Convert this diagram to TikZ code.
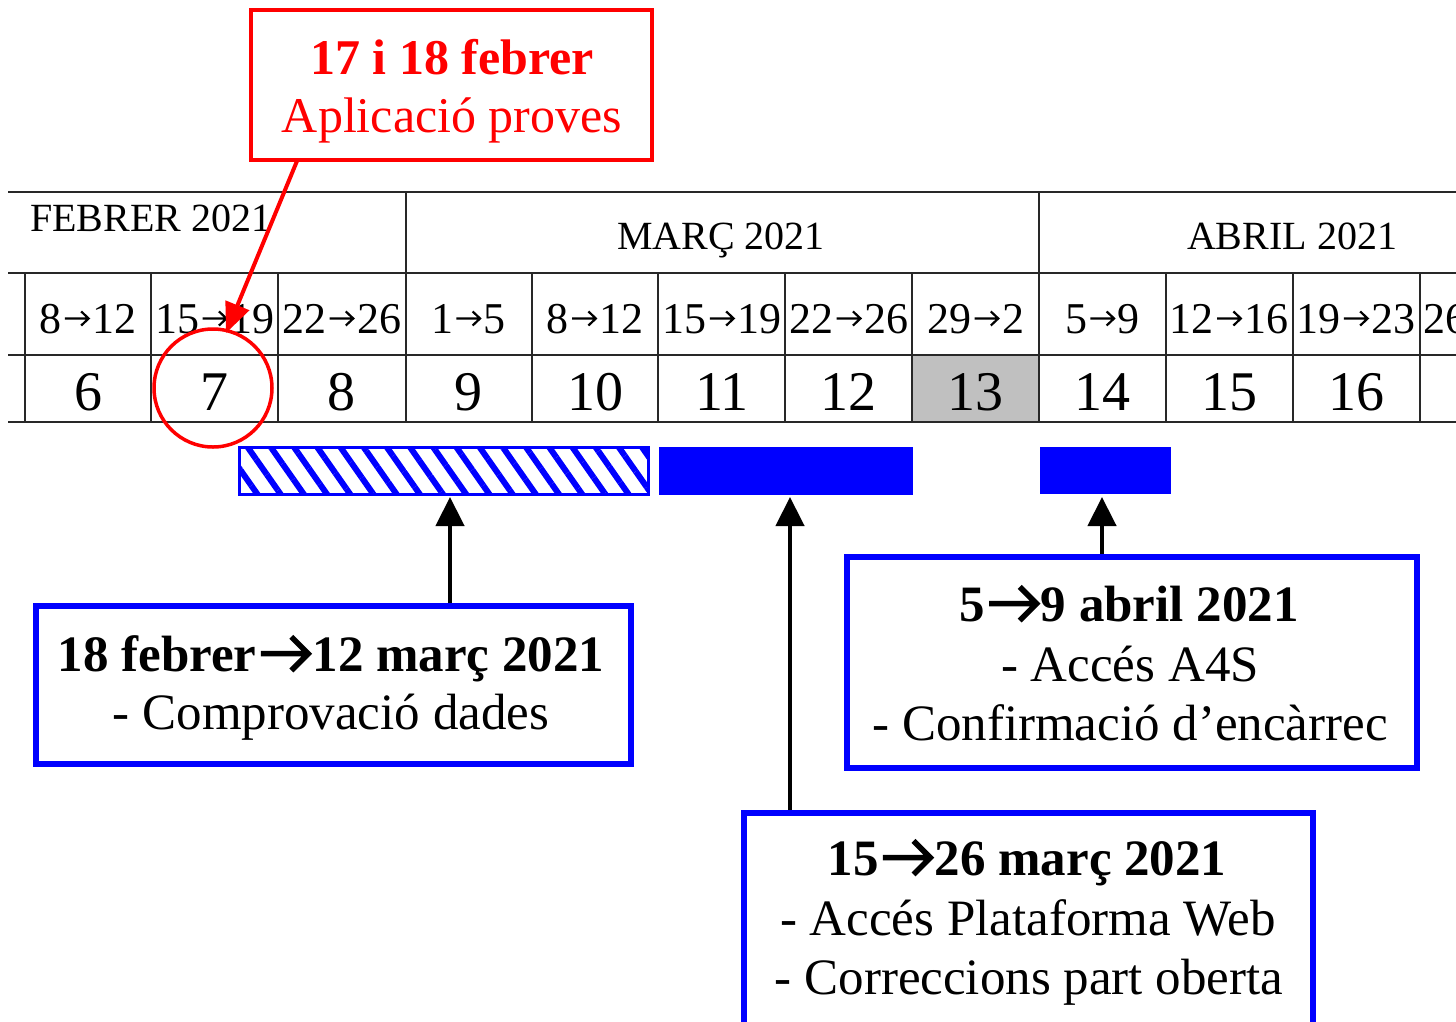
\documentclass[tikz,border=0pt]{standalone}
\usepackage{fontspec}
\setmainfont{Liberation Serif}
\usetikzlibrary{arrows.meta,patterns.meta}
\definecolor{pblue}{RGB}{0,0,255}
\definecolor{pred}{RGB}{255,0,0}
\definecolor{cgray}{RGB}{192,192,192}
\definecolor{lgray}{RGB}{40,40,40}
\newcommand\harr{\kern0.05em\tikz[baseline=0pt,x=1em,y=1em]{\draw[line width=0.05em,line cap=butt,line join=miter] (0,0.33)--(0.52,0.33) (0.37,0.49)--(0.54,0.33)--(0.37,0.17);}\kern0.06em}
\newcommand\barr{\kern0.03em\tikz[baseline=0pt,x=1em,y=1em]{\draw[line width=0.11em,line cap=butt,line join=miter] (0,0.34)--(0.9,0.34) (0.6,0.67)--(0.93,0.34)--(0.6,0.01);}\kern0.03em}
\begin{document}
\begin{tikzpicture}[x=1pt,y=-1pt,
  thk/.style={line width=2.6pt,draw=lgray},
  thn/.style={line width=1.6pt,draw=lgray},
  month/.style={font=\fontsize{40}{46}\selectfont,anchor=base,inner sep=0pt},
  week/.style={font=\fontsize{44}{50}\selectfont,anchor=base,inner sep=0pt},
  num/.style={font=\fontsize{56}{60}\selectfont,anchor=base,inner sep=0pt},
  bluebox/.style={draw=pblue,line width=6pt,fill=white,inner sep=0pt,outer sep=0pt},
  boxtxt/.style={font=\fontsize{51}{59}\selectfont,anchor=base,inner sep=0pt},
  boxbold/.style={font=\fontsize{51}{59}\selectfont\bfseries,anchor=base,inner sep=0pt},
  bar/.style={fill=pblue,inner sep=0pt,outer sep=0pt},
  barrow/.style={line width=4.5pt,draw=black,-{Triangle[length=29pt,width=28pt]}},
  rarrow/.style={line width=4pt,draw=pred,-{Triangle[length=30pt,width=25pt]}}
]
\clip (0,0) rectangle (1456,1021);
\fill[white] (0,0) rectangle (1456,1021);

% ---------- table ----------
\fill[cgray] (912,355) rectangle (1039,422);
\draw[thk] (8,192) -- (1456,192);
\draw[thn] (8,273) -- (1456,273);
\draw[thk] (8,355) -- (1456,355);
\draw[thn] (8,422) -- (1456,422);
\foreach \xx in {406,1039} \draw[thn] (\xx,192) -- (\xx,422);
\foreach \xx in {25,151,278,532,658,785,912,1166,1293,1420} \draw[thn] (\xx,273) -- (\xx,422);

\node[month,anchor=base west] (mfeb) at (30,231) {FEBRER 2021};
\node[month] (mmar) at (721,249) {MARÇ 2021};
\node[month] (mabr) at (1292,249) {ABRIL 2021};

\foreach \i/\a/\b in {0/8/12,1/15/19,2/22/26,3/1/5,4/8/12,5/15/19,6/22/26,7/29/2,8/5/9,9/12/16,10/19/23,11/26/30}{
  \pgfmathsetmacro\cx{88+126.8*\i}
  \node[week] (wk\i) at (\cx,333) {\a\harr\b};
}
\foreach \i/\n in {0/6,1/7,2/8,3/9,4/10,5/11,6/12,7/13,8/14,9/15,10/16}{
  \pgfmathsetmacro\cx{88+126.8*\i}
  \node[num] (nm\i) at (\cx,410) {\n};
}

% ---------- bars ----------
\node[draw=pblue,line width=3pt,inner sep=0pt,outer sep=0pt,minimum width=409pt,minimum height=47pt,
  pattern={Lines[angle=-55,distance=19pt,line width=6pt]},pattern color=pblue] (hbar) at (444,471) {};
\node[bar,minimum width=254pt,minimum height=48pt] (bar2) at (786,471) {};
\node[bar,minimum width=131pt,minimum height=47pt] (bar3) at (1105.5,470.5) {};

% ---------- boxes ----------
\node[bluebox,minimum width=595pt,minimum height=158pt] (boxA) at (333.5,685) {};
\node[boxbold] (a1) at (331,671) {18 febrer\barr12 març 2021};
\node[boxtxt] (a2) at (331,729) {- Comprovació dades};

\node[bluebox,minimum width=570pt,minimum height=211pt] (boxB) at (1132,662.5) {};
\node[boxbold] (b1) at (1129,621) {5\barr9 abril 2021};
\node[boxtxt] (b2) at (1130,681) {- Accés A4S};
\node[boxtxt] (b3) at (1130,740) {- Confirmació d’encàrrec};

\node[bluebox,minimum width=569pt,minimum height=213pt] (boxC) at (1028.5,919.5) {};
\node[boxbold] (c1) at (1027,875) {15\barr26 març 2021};
\node[boxtxt] (c2) at (1028,935) {- Accés Plataforma Web};
\node[boxtxt] (c3) at (1029,994) {- Correccions part oberta};

% ---------- black arrows ----------
\coordinate (pA) at (450,603);
\coordinate (tA) at (450,497);
\coordinate (pC) at (790,810);
\coordinate (tC) at (790,497);
\coordinate (pB) at (1102,554);
\coordinate (tB) at (1102,497);
\draw[barrow] (pA) -- (tA);
\draw[barrow] (pC) -- (tC);
\draw[barrow] (pB) -- (tB);

% ---------- red callout ----------
\node[draw=pred,line width=4pt,fill=white,inner sep=0pt,minimum width=401pt,minimum height=150pt] (rbox) at (451.5,85) {};
\node[font=\fontsize{50}{58}\selectfont\bfseries,text=pred,anchor=base,inner sep=0pt] (r1) at (452,74) {17 i 18 febrer};
\node[font=\fontsize{50}{58}\selectfont,text=pred,anchor=base,inner sep=0pt] (r2) at (452,132) {Aplicació proves};
\node[draw=pred,line width=3.5pt,circle,minimum size=118pt,inner sep=0pt] (circ) at (213,388) {};
\coordinate (rA) at (297,161);
\coordinate (rB) at (226,333);
\draw[rarrow] (rA) -- (rB);
\end{tikzpicture}
\end{document}
